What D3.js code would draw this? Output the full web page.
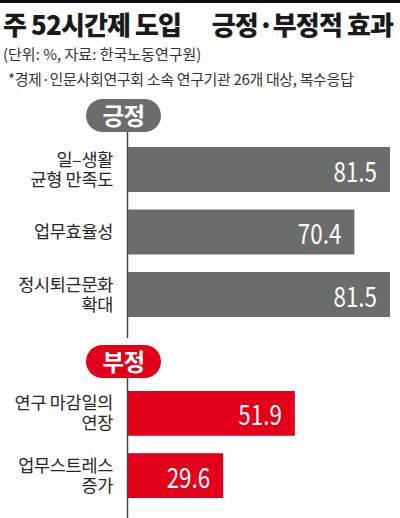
<!DOCTYPE html>
<html><head><meta charset="utf-8">
<script src="https://cdn.jsdelivr.net/npm/d3@7/dist/d3.min.js"></script>
<style>
html,body{margin:0;padding:0;background:#fff;}
svg{display:block;}
text{font-family:"Noto Sans CJK KR","Noto Sans",sans-serif;}
</style></head>
<body>
<svg id="c" width="400" height="518"></svg>
<script>
const titleLeft = "주 52시간제 도입";
const titleRight = "긍정·부정적 효과";
const subtitle = "(단위: %, 자료: 한국노동연구원)";
const footnote = "*경제·인문사회연구회 소속 연구기관 26개 대상, 복수응답";

const groupNames = ["긍정", "부정"];
const positiveCategories = [["일–생활", "균형 만족도"], ["업무효율성"], ["정시퇴근문화", "확대"]];
const positiveValues = [81.5, 70.4, 81.5];
const negativeCategories = [["연구 마감일의", "연장"], ["업무스트레스", "증가"]];
const negativeValues = [51.9, 29.6];

const svg = d3.select("#c");
const GRAY = "#6c6c6c", RED = "#e2001a";

svg.append("rect").attr("x",0).attr("y",0).attr("width",400).attr("height",3).attr("fill","#111");

svg.append("text").attr("x",3).attr("y",35).attr("font-size",26).attr("font-weight",900)
  .attr("fill","#1a1a1a").attr("letter-spacing",-0.9).text(titleLeft);
svg.append("text").attr("x",393).attr("y",35).attr("font-size",26).attr("font-weight",900)
  .attr("fill","#1a1a1a").attr("text-anchor","end").attr("letter-spacing",-0.9).text(titleRight);
svg.append("text").attr("x",3).attr("y",60).attr("font-size",15).attr("fill","#333").text(subtitle);
svg.append("text").attr("x",8).attr("y",85).attr("font-size",15).attr("fill","#333").attr("letter-spacing",-0.35).text(footnote);

const x = d3.scaleLinear().domain([0,100]).range([128, 449.5]);
const axisX = 127.5;

svg.append("line").attr("x1",axisX).attr("x2",axisX).attr("y1",131).attr("y2",338).attr("stroke","#444").attr("stroke-width",1.5);
svg.append("line").attr("x1",axisX).attr("x2",axisX).attr("y1",377).attr("y2",518).attr("stroke","#444").attr("stroke-width",1.5);

function pill(name, y, color){
  svg.append("rect").attr("x",86).attr("y",y).attr("width",75).attr("height",33).attr("rx",16.5)
    .attr("fill",color);
  svg.append("text").attr("x",123.5).attr("y",y+26).attr("text-anchor","middle")
    .attr("font-size",23.5).attr("font-weight",700).attr("fill","#fff").attr("letter-spacing",-0.5).text(name);
}

function group(cats, vals, range, color){
  const y = d3.scaleBand().domain(d3.range(cats.length)).range(range).paddingInner(0.28).paddingOuter(0);
  const g = svg.append("g");
  vals.forEach((v,i)=>{
    const cy = y(i) + y.bandwidth()/2;
    g.append("rect").attr("x",x(0)).attr("y",y(i)).attr("width",x(v)-x(0)).attr("height",y.bandwidth()).attr("fill",color);
    g.append("text").attr("transform",`translate(${x(v)-13},${cy+12}) scale(0.8,1)`).attr("text-anchor","end")
      .attr("font-family","'Liberation Sans',Arial,sans-serif")
      .attr("font-size",28).attr("fill","#fff").text(v.toFixed(1));
    const lines = cats[i];
    const t = g.append("text").attr("text-anchor","end").attr("font-size",17.5)
      .attr("fill","#262626").attr("letter-spacing",-0.3);
    lines.forEach((ln,j)=>{
      t.append("tspan").attr("x",113).attr("y",cy + 6 + (j-(lines.length-1)/2)*20).text(ln);
    });
  });
}

group(positiveCategories, positiveValues, [147,317], GRAY);
group(negativeCategories, negativeValues, [391,498], RED);
pill(groupNames[0], 99, GRAY);
pill(groupNames[1], 345, RED);
</script>
</body></html>
